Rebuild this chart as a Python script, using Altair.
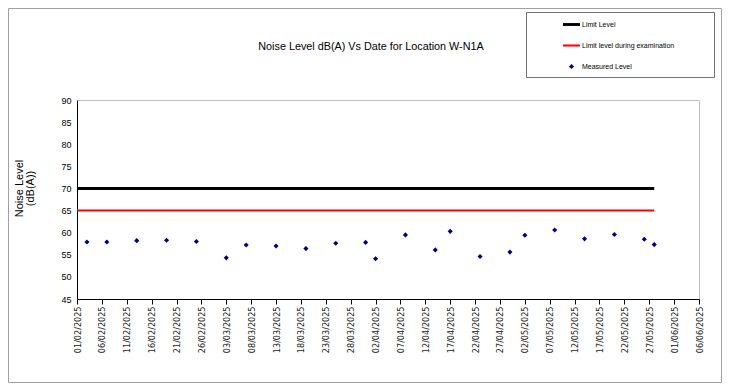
import altair as alt
import pandas as pd

# ---- data ----
dates = [
    "2025-02-03", "2025-02-07", "2025-02-13", "2025-02-19", "2025-02-25",
    "2025-03-03", "2025-03-07", "2025-03-13", "2025-03-19", "2025-03-25",
    "2025-03-31", "2025-04-02", "2025-04-08", "2025-04-14", "2025-04-17",
    "2025-04-23", "2025-04-29", "2025-05-02", "2025-05-08", "2025-05-14",
    "2025-05-20", "2025-05-26", "2025-05-28",
]
levels = [
    57.9, 57.9, 58.2, 58.3, 58.0,
    54.3, 57.2, 57.0, 56.4, 57.6,
    57.8, 54.1, 59.5, 56.1, 60.3,
    54.6, 55.6, 59.4, 60.6, 58.6,
    59.6, 58.5, 57.3,
]
limit_names = ["Limit Level", "Limit level during examination"]
limit_values = [70, 65]
limit_widths = [3, 2]
limit_start = "2025-02-01"
limit_end = "2025-05-28"
series_names = ["Limit Level", "Limit level during examination", "Measured Level"]
series_colors = ["#000000", "#ff0000", "#000080"]
x_domain = ["2025-02-01", "2025-06-06"]
x_ticks = [
    "2025-02-01", "2025-02-06", "2025-02-11", "2025-02-16", "2025-02-21",
    "2025-02-26", "2025-03-03", "2025-03-08", "2025-03-13", "2025-03-18",
    "2025-03-23", "2025-03-28", "2025-04-02", "2025-04-07", "2025-04-12",
    "2025-04-17", "2025-04-22", "2025-04-27", "2025-05-02", "2025-05-07",
    "2025-05-12", "2025-05-17", "2025-05-22", "2025-05-27", "2025-06-01",
    "2025-06-06",
]
y_ticks = [45, 50, 55, 60, 65, 70, 75, 80, 85, 90]
chart_title = "Noise Level dB(A) Vs Date for Location W-N1A"
y_title = ["Noise Level", "(dB(A))"]


def dt(s):
    y, m, d = (int(v) for v in s.split("-"))
    return alt.DateTime(year=y, month=m, date=d, utc=True)


points = pd.DataFrame({"date": dates, "level": levels, "series": "Measured Level"})
limits = pd.DataFrame({
    "series": limit_names,
    "value": limit_values,
    "start": limit_start,
    "end": limit_end,
})

BAR_THICK = "M-1,-0.17L1,-0.17L1,0.17L-1,0.17Z"
BAR_THIN = "M-1,-0.12L1,-0.12L1,0.12L-1,0.12Z"
DIAMOND = "M0,-0.3L0.3,0L0,0.3L-0.3,0Z"

color_scale = alt.Scale(domain=series_names, range=series_colors)
shape_scale = alt.Scale(domain=series_names, range=[BAR_THICK, BAR_THIN, DIAMOND])
x_scale = alt.Scale(type="utc", domain=[dt(x_domain[0]), dt(x_domain[1])])
y_scale = alt.Scale(domain=[45, 90], nice=False, zero=False)

FONT = "Liberation Sans"
NARROW = "Liberation Sans Narrow, DejaVu Sans Condensed, Liberation Sans"

x_axis = alt.Axis(
    values=[dt(s) for s in x_ticks], format="%d/%m/%Y", title=None,
    labelAngle=270, labelAlign="right", labelBaseline="middle",
    labelFont=NARROW, labelFontSize=9, labelColor="#222", labelPadding=2,
    labelOverlap=False, grid=False, ticks=True, tickSize=5, tickColor="#000",
    domainColor="#000",
)
y_axis = alt.Axis(
    values=y_ticks, title=y_title, ticks=False, labelPadding=6, grid=False,
    domainColor="#000", labelFont=FONT, labelFontSize=9, labelColor="#000",
    titleFont=FONT, titleFontSize=11, titleFontWeight="normal", titleColor="#000",
    titleAngle=270, titleX=-58, titleY=88, titleAlign="center",
    titleBaseline="middle", titleLineHeight=11,
)

legend = alt.Legend(
    title=None, orient="none", legendX=486, legendY=-84, padding=0,
    labelFont=FONT, labelFontSize=7, labelColor="#000", labelOffset=2,
    labelLimit=300, rowPadding=9, symbolSize=289, symbolStrokeWidth=0,
)

rules = alt.Chart(limits).mark_rule().encode(
    x=alt.X("start:T", scale=x_scale, axis=x_axis),
    x2="end:T",
    y=alt.Y("value:Q", scale=y_scale, axis=y_axis),
    color=alt.Color("series:N", scale=color_scale, legend=legend),
    strokeWidth=alt.StrokeWidth(
        "series:N", scale=alt.Scale(domain=limit_names, range=limit_widths), legend=None
    ),
)

dots = alt.Chart(points).mark_point(filled=True, size=289, opacity=1, strokeWidth=0).encode(
    x=alt.X("date:T", scale=x_scale, axis=x_axis),
    y=alt.Y("level:Q", scale=y_scale, axis=y_axis),
    color=alt.Color("series:N", scale=color_scale, legend=legend),
    shape=alt.Shape("series:N", scale=shape_scale, legend=legend),
)

frame_df = pd.DataFrame({"k": [0]})
outer_frame = alt.Chart(frame_df).mark_rect(
    filled=False, stroke="#a0a0a0", color="#a0a0a0", strokeWidth=1
).encode(
    x=alt.value(-68.5), x2=alt.value(644.5), y=alt.value(-91.5), y2=alt.value(282.5)
)
legend_frame = alt.Chart(frame_df).mark_rect(
    filled=False, stroke="#707070", color="#707070", strokeWidth=1
).encode(
    x=alt.value(449.5), x2=alt.value(637.5), y=alt.value(-87.5), y2=alt.value(-22.5)
)

chart = alt.layer(outer_frame, legend_frame, rules, dots).properties(
    width=622,
    height=199,
    autosize=alt.AutoSizeParams(type="none"),
    padding={"left": 69, "top": 92, "right": 23, "bottom": 84},
    background="white",
    title=alt.TitleParams(
        chart_title, font=FONT, fontSize=10.8, fontWeight="normal", color="#000",
        anchor="middle", frame="group", offset=0, dx=-17, dy=44,
    ),
).configure_view(stroke="#c0c0c0", strokeWidth=1)

chart.save("out.html", embed_options={"renderer": "svg", "actions": False})
